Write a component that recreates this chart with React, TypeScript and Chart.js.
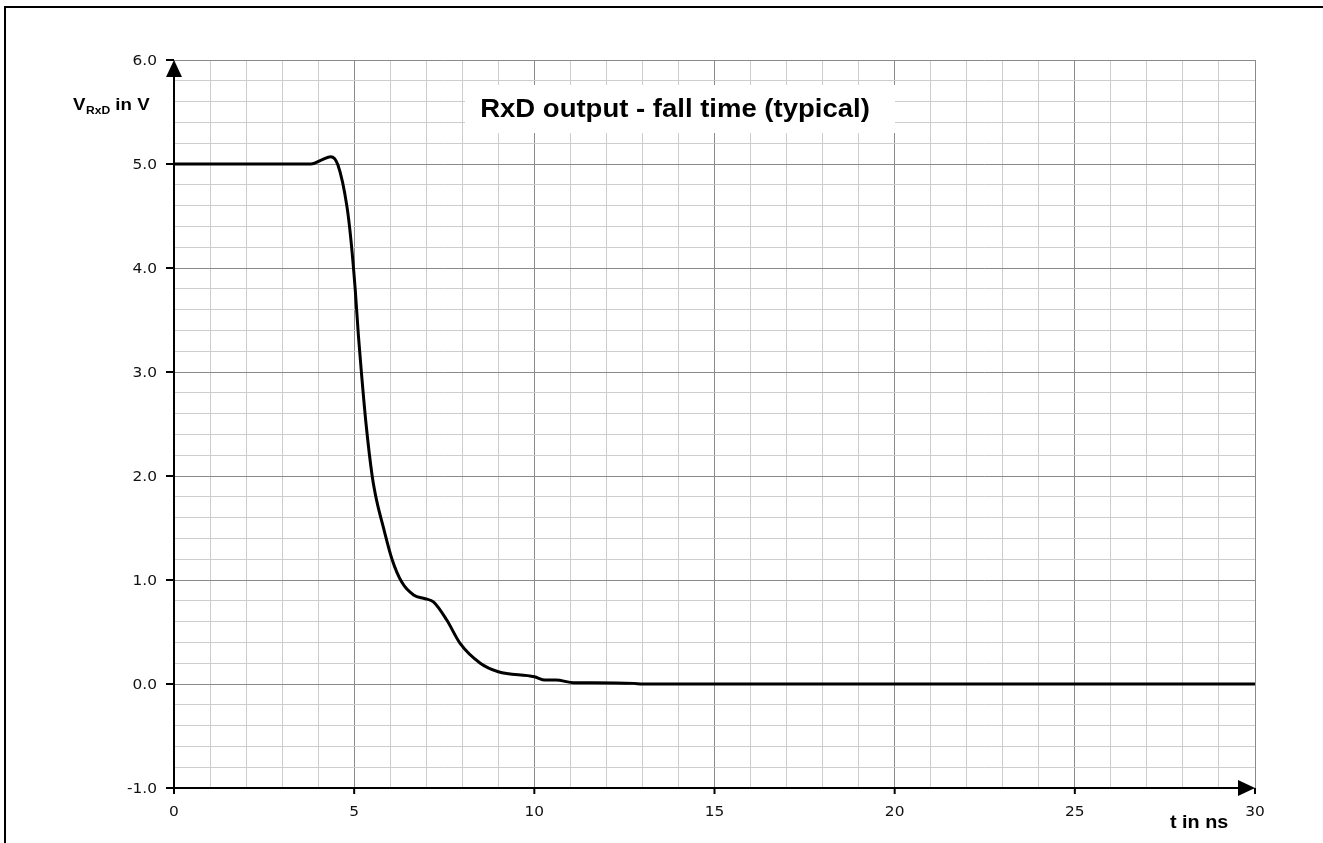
import React, { useEffect, useRef } from "react";
import { Chart, registerables } from "chart.js";

Chart.register(...registerables);

// time in ns
const timeNs: number[] = [
  0, 3.8, 4.1, 4.35, 4.55, 4.8, 4.91, 5.03, 5.12, 5.2, 5.33, 5.5, 5.62, 5.8,
  6.05, 6.32, 6.65, 6.97, 7.2, 7.57, 7.94, 8.5, 9.0, 10.0, 10.3, 10.6, 11.1,
  11.65, 12.76, 13.0, 30,
];
// V_RxD in V
const voltage: number[] = [
  5.0, 5.0, 5.04, 5.07, 4.99, 4.59, 4.27, 3.79, 3.34, 3.0, 2.5, 2.0, 1.77, 1.52,
  1.2, 0.98, 0.856, 0.82, 0.79, 0.615, 0.39, 0.2, 0.118, 0.07, 0.038, 0.038,
  0.013, 0.013, 0.006, 0.0, 0.0,
];

const xLabelTicks: number[] = [0, 5, 10, 15, 20, 25, 30];
const yLabelTicks: number[] = [-1, 0, 1, 2, 3, 4, 5, 6];

const titleText = "RxD output - fall time (typical)";
const xTitle = "t in ns";

const SX = 1.1;
const MAJOR = "#8a8a8a";
const MINOR = "#cdcdcd";

function isInt(v: number, step: number) {
  const r = v / step;
  return Math.abs(r - Math.round(r)) < 1e-6;
}

function drawText(
  ctx: CanvasRenderingContext2D,
  text: string,
  x: number,
  y: number,
  font: string,
  align: CanvasTextAlign,
  baseline: CanvasTextBaseline
) {
  ctx.save();
  ctx.font = font;
  ctx.textAlign = align;
  ctx.textBaseline = baseline;
  ctx.translate(x, y);
  ctx.scale(SX, 1);
  ctx.fillText(text, 0, 0);
  ctx.restore();
}

const decor = {
  id: "decor",
  afterDraw(chart: any) {
    const ctx: CanvasRenderingContext2D = chart.ctx;
    const xs = chart.scales.x;
    const ys = chart.scales.y;
    const { left, right, top, bottom } = chart.chartArea;

    ctx.save();
    // outer frame
    ctx.strokeStyle = "#000";
    ctx.lineWidth = 2;
    ctx.beginPath();
    ctx.moveTo(5, 843);
    ctx.lineTo(5, 7);
    ctx.lineTo(1323, 7);
    ctx.stroke();

    // title box
    ctx.fillStyle = "#fff";
    ctx.fillRect(465, 85, 430, 48);
    ctx.fillStyle = "#000";
    drawText(ctx, titleText, 675, 117, "bold 25px 'Liberation Sans', Arial, sans-serif", "center", "alphabetic");

    // axes lines
    ctx.strokeStyle = "#000";
    ctx.lineWidth = 2;
    ctx.beginPath();
    ctx.moveTo(left, bottom);
    ctx.lineTo(left, top + 14);
    ctx.moveTo(left, bottom);
    ctx.lineTo(right - 14, bottom);
    ctx.stroke();

    // arrows
    ctx.fillStyle = "#000";
    ctx.beginPath();
    ctx.moveTo(left, top);
    ctx.lineTo(left - 8, top + 17);
    ctx.lineTo(left + 8, top + 17);
    ctx.closePath();
    ctx.fill();
    ctx.beginPath();
    ctx.moveTo(right, bottom);
    ctx.lineTo(right - 17, bottom - 8);
    ctx.lineTo(right - 17, bottom + 8);
    ctx.closePath();
    ctx.fill();

    // tick marks + labels
    ctx.lineWidth = 2;
    ctx.fillStyle = "#111";
    const tickFont = "14px 'DejaVu Sans', sans-serif";
    yLabelTicks.forEach((v) => {
      const py = ys.getPixelForValue(v);
      ctx.beginPath();
      ctx.moveTo(left - 8, py);
      ctx.lineTo(left, py);
      ctx.stroke();
      drawText(ctx, v.toFixed(1), 157, py + 1, tickFont, "right", "middle");
    });
    xLabelTicks.forEach((v) => {
      const px = xs.getPixelForValue(v);
      ctx.beginPath();
      ctx.moveTo(px, bottom);
      ctx.lineTo(px, bottom + 6);
      ctx.stroke();
      drawText(ctx, String(v), px, 812, tickFont, "center", "middle");
    });

    // axis titles
    ctx.fillStyle = "#000";
    const bold17 = "bold 17px 'Liberation Sans', Arial, sans-serif";
    const bold11 = "bold 11px 'Liberation Sans', Arial, sans-serif";
    ctx.font = bold17;
    const wV = ctx.measureText("V").width * SX;
    drawText(ctx, "V", 73, 110, bold17, "left", "alphabetic");
    ctx.font = bold11;
    const wSub = ctx.measureText("RxD").width * SX;
    drawText(ctx, "RxD", 73 + wV + 0.5, 114, bold11, "left", "alphabetic");
    drawText(ctx, " in V", 73 + wV + 0.5 + wSub, 110, bold17, "left", "alphabetic");

    drawText(ctx, xTitle, 1170, 828, "bold 18px 'Liberation Sans', Arial, sans-serif", "left", "alphabetic");
    ctx.restore();
  },
};

export default function App() {
  const ref = useRef<HTMLCanvasElement | null>(null);
  useEffect(() => {
    if (!ref.current) return;
    const points = timeNs.map((t, i) => ({ x: t, y: voltage[i] }));
    const chart = new Chart(ref.current, {
      type: "line",
      data: {
        datasets: [
          {
            data: points,
            borderColor: "#000",
            borderWidth: 3,
            pointRadius: 0,
            fill: false,
            cubicInterpolationMode: "monotone",
          },
        ],
      },
      options: {
        animation: false,
        responsive: false,
        events: [],
        layout: { padding: { left: 174, right: 68, top: 60, bottom: 55 } },
        plugins: {
          legend: { display: false },
          tooltip: { enabled: false },
          title: { display: false },
        },
        scales: {
          x: {
            type: "linear",
            min: 0,
            max: 30,
            ticks: { display: false, stepSize: 1 },
            grid: {
              drawTicks: false,
              lineWidth: 1,
              color: (c: any) => (isInt(c.tick.value, 5) ? MAJOR : MINOR),
            },
            border: { display: false },
            afterFit: (s: any) => {
              s.height = 0;
            },
          },
          y: {
            type: "linear",
            min: -1,
            max: 6,
            ticks: { display: false, stepSize: 0.2 },
            grid: {
              drawTicks: false,
              lineWidth: 1,
              color: (c: any) => (isInt(c.tick.value, 1) ? MAJOR : MINOR),
            },
            border: { display: false },
            afterFit: (s: any) => {
              s.width = 0;
            },
          },
        },
      },
      plugins: [decor],
    });
    return () => chart.destroy();
  }, []);
  return (
    <div style={{ position: "fixed", left: 0, top: 0, width: 1323, height: 843, background: "#fff" }}>
      <canvas ref={ref} width={1323} height={843} style={{ display: "block" }} />
    </div>
  );
}
